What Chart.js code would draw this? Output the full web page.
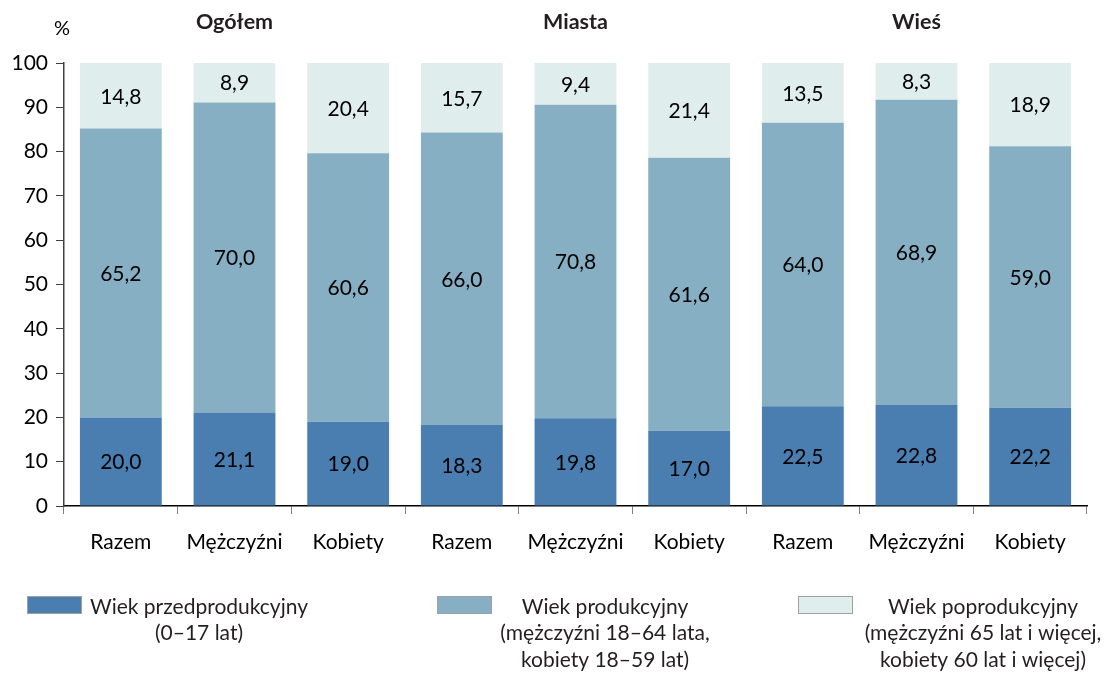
<!DOCTYPE html>
<html>
<head>
<meta charset="utf-8">
<script src="https://cdn.jsdelivr.net/npm/chart.js@4/dist/chart.umd.min.js"></script>
<style>
html,body{margin:0;padding:0;background:#fff;}
#wrap{width:1110px;height:677px;position:relative;}
</style>
</head>
<body>
<div id="wrap"><canvas id="c" width="1110" height="677"></canvas></div>
<script>
const categories = ['Razem','Mężczyźni','Kobiety','Razem','Mężczyźni','Kobiety','Razem','Mężczyźni','Kobiety'];
const groupTitles = ['Ogółem','Miasta','Wieś'];
const preProductive = [20.0,21.1,19.0,18.3,19.8,17.0,22.5,22.8,22.2];
const productive = [65.2,70.0,60.6,66.0,70.8,61.6,64.0,68.9,59.0];
const postProductive = [14.8,8.9,20.4,15.7,9.4,21.4,13.5,8.3,18.9];
const seriesNames = ['Wiek przedprodukcyjny','Wiek produkcyjny','Wiek poprodukcyjny'];
const legendLines = [
  ['Wiek przedprodukcyjny','(0–17 lat)'],
  ['Wiek produkcyjny','(mężczyźni 18–64 lata,','kobiety 18–59 lat)'],
  ['Wiek poprodukcyjny','(mężczyźni 65 lat i więcej,','kobiety 60 lat i więcej)']
];
const yUnit = '%';

const FONT = 'Lato, "Open Sans", sans-serif';
const colors = ['#4a7eb1','#86afc3','#e0eded'];

const labelPlugin = {
  id: 'valueLabels',
  afterDatasetsDraw(chart) {
    const ctx = chart.ctx;
    ctx.save();
    ctx.font = '21px ' + FONT;
    ctx.fillStyle = '#000';
    ctx.textAlign = 'center';
    ctx.textBaseline = 'middle';
    chart.data.datasets.forEach((ds, di) => {
      const meta = chart.getDatasetMeta(di);
      meta.data.forEach((el, i) => {
        const v = ds.data[i];
        const y = (el.y + el.base) / 2;
        ctx.fillText(v.toFixed(1).replace('.', ','), el.x, y + 1);
      });
    });
    ctx.restore();
  }
};

const decorPlugin = {
  id: 'decor',
  afterDraw(chart) {
    const ctx = chart.ctx;
    const xs = chart.scales.x;
    ctx.save();
    ctx.font = 'bold 21.5px ' + FONT;
    ctx.fillStyle = '#231f20';
    ctx.textAlign = 'center';
    ctx.textBaseline = 'middle';
    groupTitles.forEach((t, g) => {
      ctx.fillText(t, xs.getPixelForValue(g * 3 + 1), 22);
    });
    ctx.font = '20px ' + FONT;
    ctx.fillStyle = '#000';
    ctx.fillText(yUnit, 62, 29);
    const boxX = [27, 437, 798];
    const textCx = [199, 605, 983];
    ctx.font = '21px ' + FONT;
    legendLines.forEach((lines, i) => {
      ctx.fillStyle = colors[i];
      ctx.fillRect(boxX[i], 596, 55, 18);
      ctx.strokeStyle = '#a0a0a0';
      ctx.lineWidth = 1;
      ctx.strokeRect(boxX[i] + 0.5, 596.5, 54, 17);
      ctx.fillStyle = '#231f20';
      lines.forEach((ln, k) => {
        ctx.fillText(ln, textCx[i], 607 + k * 26.5);
      });
    });
    ctx.restore();
  }
};

new Chart(document.getElementById('c'), {
  type: 'bar',
  data: {
    labels: categories,
    datasets: [
      { label: seriesNames[0], data: preProductive, backgroundColor: colors[0] },
      { label: seriesNames[1], data: productive, backgroundColor: colors[1] },
      { label: seriesNames[2], data: postProductive, backgroundColor: colors[2] }
    ]
  },
  options: {
    responsive: false,
    animation: false,
    devicePixelRatio: 1,
    layout: { padding: { top: 63, left: 0, right: 23, bottom: 121 } },
    datasets: { bar: { categoryPercentage: 1, barPercentage: 0.72, borderWidth: 0 } },
    plugins: { legend: { display: false }, tooltip: { enabled: false } },
    scales: {
      x: {
        stacked: true,
        afterFit(s) { s.height = 50; },
        border: { color: '#000', width: 1.5 },
        grid: { offset: true, drawOnChartArea: false, drawTicks: true, tickLength: 8, color: '#808080' },
        ticks: { color: '#000', font: { family: FONT, size: 21 }, padding: 16, maxRotation: 0, autoSkip: false }
      },
      y: {
        stacked: true,
        min: 0, max: 100,
        afterFit(s) { s.width = 64; },
        border: { color: '#404040', width: 1.5 },
        grid: { drawOnChartArea: false, drawTicks: true, tickLength: 8, color: '#404040' },
        ticks: { stepSize: 10, color: '#000', font: { family: FONT, size: 21 }, padding: 8 }
      }
    }
  },
  plugins: [labelPlugin, decorPlugin]
});
</script>
</body>
</html>
